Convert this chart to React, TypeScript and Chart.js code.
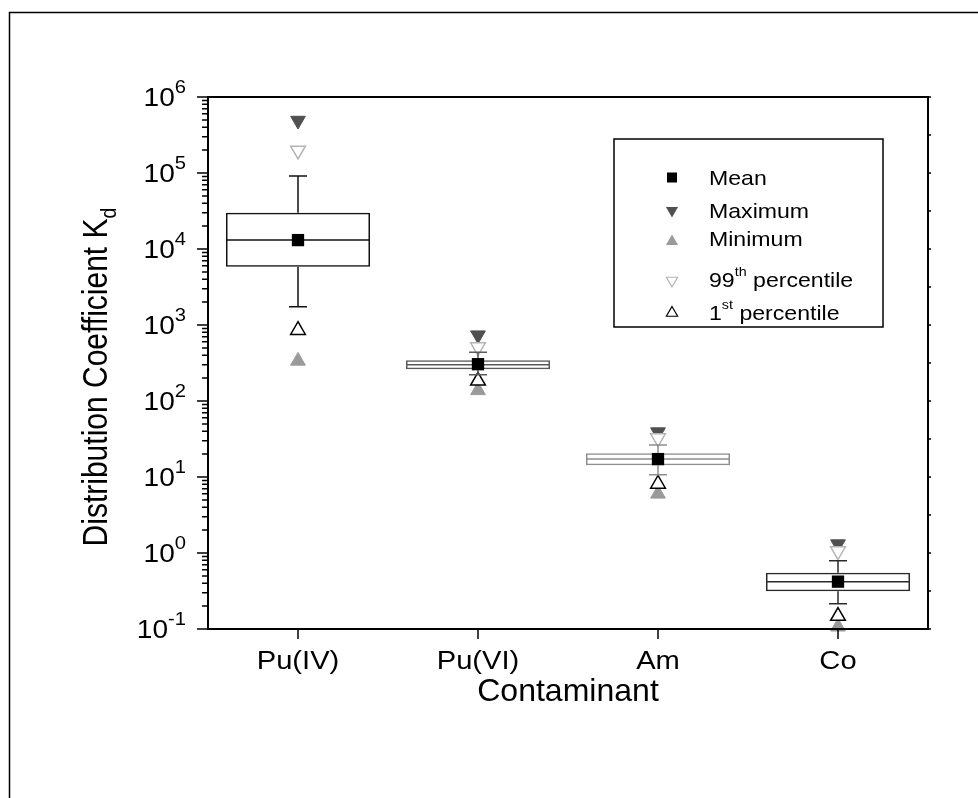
import React, { useEffect, useRef } from 'react';
import { Chart, registerables } from 'chart.js';

Chart.register(...registerables);

// ---------- data ----------
const categories = ['Pu(IV)', 'Pu(VI)', 'Am', 'Co'];
const boxLow = [5850, 261, 14.3, 0.313];
const boxHigh = [30000, 343, 20.5, 0.55];
const medianVals = [13100, 300, 17.3, 0.419];
const whiskerLow = [1740, 222, 10.7, 0.215];
const whiskerHigh = [91000, 438, 26.4, 0.79];
const meanVals = [13100, 305, 17.2, 0.42];
const maxVals = [490000, 735, 39, 1.31];
const minVals = [337, 138, 6.0, 0.107];
const p99Vals = [198000, 512, 32.5, 1.06];
const p1Vals = [853, 184, 8.1, 0.148];
const yExponents = [-1, 0, 1, 2, 3, 4, 5, 6];
const xTitle = 'Contaminant';
const yTitle = 'Distribution Coefficient K';
const yTitleSub = 'd';

// ---------- styles ----------
const FONT = '"Liberation Sans", Arial, Helvetica, sans-serif';
const SX = 1.1;
const boxColors = ['#111111', '#5a5a5a', '#8e8e8e', '#2a2a2a'];
const MEAN_COLOR = '#000000';
const MAX_COLOR = '#505050';
const MIN_COLOR = '#9a9a9a';
const P99_COLOR = '#b4b4b4';
const P1_COLOR = '#000000';

type Part = { t: string; s?: 'sup' | 'sub' };

function partSize(size: number, p: Part, supScale: number) {
  return p.s ? size * supScale : size;
}

function drawParts(
  ctx: CanvasRenderingContext2D,
  parts: Part[],
  size: number,
  align: 'left' | 'center' | 'right',
  supScale = 0.7,
  supRise = 0.45
) {
  ctx.textAlign = 'left';
  ctx.textBaseline = 'alphabetic';
  let w = 0;
  for (const p of parts) {
    ctx.font = `${partSize(size, p, supScale)}px ${FONT}`;
    w += ctx.measureText(p.t).width;
  }
  let cx = align === 'left' ? 0 : align === 'center' ? -w / 2 : -w;
  for (const p of parts) {
    ctx.font = `${partSize(size, p, supScale)}px ${FONT}`;
    const dy = p.s === 'sup' ? -size * supRise : p.s === 'sub' ? size * 0.25 : 0;
    ctx.fillText(p.t, cx, dy);
    cx += ctx.measureText(p.t).width;
  }
}

function triPath(ctx: CanvasRenderingContext2D, x: number, y: number, r: number, down: boolean) {
  const s = down ? -1 : 1;
  const h = (r * Math.sqrt(3)) / 2;
  ctx.beginPath();
  ctx.moveTo(x, y - s * r);
  ctx.lineTo(x + h, y + (s * r) / 2);
  ctx.lineTo(x - h, y + (s * r) / 2);
  ctx.closePath();
}

const decorPlugin = {
  id: 'decor',
  afterDatasetDraw(chart: any, args: any) {
    if (args.index !== 4) return;
    const ctx: CanvasRenderingContext2D = chart.ctx;
    const ys = chart.scales.y;
    const bars = chart.getDatasetMeta(0).data;
    ctx.save();
    ctx.lineWidth = 1.5;
    categories.forEach((_, i) => {
      const bar = bars[i];
      const cx = bar.x;
      const half = bar.width / 2;
      ctx.strokeStyle = boxColors[i];
      const ym = ys.getPixelForValue(medianVals[i]);
      ctx.beginPath();
      ctx.moveTo(cx - half, ym);
      ctx.lineTo(cx + half, ym);
      ctx.stroke();
      const yTop = ys.getPixelForValue(boxHigh[i]);
      const yBot = ys.getPixelForValue(boxLow[i]);
      const wHi = ys.getPixelForValue(whiskerHigh[i]);
      const wLo = ys.getPixelForValue(whiskerLow[i]);
      ctx.beginPath();
      ctx.moveTo(cx, yTop);
      ctx.lineTo(cx, wHi);
      ctx.moveTo(cx - 9, wHi);
      ctx.lineTo(cx + 9, wHi);
      ctx.moveTo(cx, yBot);
      ctx.lineTo(cx, wLo);
      ctx.moveTo(cx - 9, wLo);
      ctx.lineTo(cx + 9, wLo);
      ctx.stroke();
    });
    ctx.restore();
  },
  afterDraw(chart: any) {
    const ctx: CanvasRenderingContext2D = chart.ctx;
    const a = chart.chartArea;
    const ys = chart.scales.y;
    const xs = chart.scales.x;
    ctx.save();
    ctx.strokeStyle = '#000';
    ctx.fillStyle = '#000';

    // outer frame
    ctx.lineWidth = 1.5;
    ctx.beginPath();
    ctx.moveTo(9.5, 800);
    ctx.lineTo(9.5, 12.5);
    ctx.lineTo(990, 12.5);
    ctx.stroke();

    // plot frame
    ctx.lineWidth = 2;
    ctx.strokeRect(a.left, a.top, a.right - a.left, a.bottom - a.top);

    // left axis ticks
    ctx.lineWidth = 1.5;
    ctx.beginPath();
    for (const e of yExponents) {
      const y = ys.getPixelForValue(Math.pow(10, e));
      ctx.moveTo(a.left - 11, y);
      ctx.lineTo(a.left, y);
      if (e < yExponents[yExponents.length - 1]) {
        for (let m = 2; m <= 9; m++) {
          const ym = ys.getPixelForValue(m * Math.pow(10, e));
          ctx.moveTo(a.left - 6, ym);
          ctx.lineTo(a.left, ym);
        }
        // right axis small ticks (decades and half-decades)
        const yh = ys.getPixelForValue(Math.pow(10, e + 0.5));
        ctx.moveTo(a.right, yh);
        ctx.lineTo(a.right + 3, yh);
      }
      ctx.moveTo(a.right, y);
      ctx.lineTo(a.right + 3, y);
    }
    categories.forEach((_, i) => {
      const x = xs.getPixelForValue(i);
      ctx.moveTo(x, a.bottom);
      ctx.lineTo(x, a.bottom + 10);
    });
    ctx.stroke();

    // y tick labels
    for (const e of yExponents) {
      const y = ys.getPixelForValue(Math.pow(10, e));
      ctx.save();
      ctx.translate(186, y + 9);
      ctx.scale(SX, 1);
      drawParts(ctx, [{ t: '10' }, { t: String(e), s: 'sup' }], 25.5, 'right', 0.72, 0.5);
      ctx.restore();
    }

    // x tick labels
    categories.forEach((c, i) => {
      const x = xs.getPixelForValue(i);
      ctx.save();
      ctx.translate(x, 669);
      ctx.scale(SX, 1);
      drawParts(ctx, [{ t: c }], 26.5, 'center');
      ctx.restore();
    });

    // x title
    ctx.save();
    ctx.translate((a.left + a.right) / 2, 701);
    ctx.scale(1.05, 1);
    drawParts(ctx, [{ t: xTitle }], 30.5, 'center');
    ctx.restore();

    // y title
    ctx.save();
    ctx.translate(107, 377);
    ctx.rotate(-Math.PI / 2);
    ctx.scale(1, 1.15);
    drawParts(ctx, [{ t: yTitle }, { t: yTitleSub, s: 'sub' }], 30, 'center', 0.65);
    ctx.restore();

    // legend
    ctx.lineWidth = 1.5;
    ctx.strokeRect(614, 139, 269, 188);
    const lx = 672;
    const tx = 709;
    const rows: { y: number; parts: Part[]; kind: string }[] = [
      { y: 177, parts: [{ t: 'Mean' }], kind: 'mean' },
      { y: 210, parts: [{ t: 'Maximum' }], kind: 'max' },
      { y: 238, parts: [{ t: 'Minimum' }], kind: 'min' },
      { y: 279, parts: [{ t: '99' }, { t: 'th', s: 'sup' }, { t: ' percentile' }], kind: 'p99' },
      { y: 312, parts: [{ t: '1' }, { t: 'st', s: 'sup' }, { t: ' percentile' }], kind: 'p1' },
    ];
    for (const r of rows) {
      ctx.save();
      if (r.kind === 'mean') {
        ctx.fillStyle = MEAN_COLOR;
        ctx.fillRect(lx - 5, r.y - 4.5, 10, 10);
      } else if (r.kind === 'max') {
        ctx.fillStyle = MAX_COLOR;
        triPath(ctx, lx, r.y + 0.5, 7, true);
        ctx.fill();
      } else if (r.kind === 'min') {
        ctx.fillStyle = MIN_COLOR;
        triPath(ctx, lx, r.y + 3.5, 7, false);
        ctx.fill();
      } else if (r.kind === 'p99') {
        ctx.strokeStyle = P99_COLOR;
        ctx.lineWidth = 1.2;
        triPath(ctx, lx, r.y + 1.5, 6.5, true);
        ctx.stroke();
      } else {
        ctx.strokeStyle = P1_COLOR;
        ctx.lineWidth = 1.2;
        triPath(ctx, lx, r.y + 1, 6.5, false);
        ctx.stroke();
      }
      ctx.restore();
      ctx.save();
      ctx.fillStyle = '#000';
      ctx.translate(tx, r.y + 7.5);
      ctx.scale(SX, 1);
      drawParts(ctx, r.parts, 21, 'left', 0.62, 0.5);
      ctx.restore();
    }

    ctx.restore();
  },
};

export default function App() {
  const ref = useRef<HTMLCanvasElement>(null);
  useEffect(() => {
    if (!ref.current) return;
    document.body.style.margin = '0';
    const chart = new Chart(ref.current, {
      type: 'bar',
      data: {
        labels: categories,
        datasets: [
          {
            type: 'bar',
            label: 'box',
            data: categories.map((_, i) => [boxLow[i], boxHigh[i]]) as any,
            backgroundColor: 'rgba(0,0,0,0)',
            borderColor: boxColors,
            borderWidth: 1.5,
            borderSkipped: false,
            categoryPercentage: 0.8,
            barPercentage: 1.0,
            order: 6,
          } as any,
          {
            type: 'line',
            label: 'Maximum',
            data: maxVals,
            showLine: false,
            pointStyle: 'triangle',
            pointRotation: 180,
            pointRadius: 8.5,
            pointBackgroundColor: MAX_COLOR,
            pointBorderColor: MAX_COLOR,
            pointBorderWidth: 1,
            clip: false,
            order: 5,
          } as any,
          {
            type: 'line',
            label: 'Minimum',
            data: minVals,
            showLine: false,
            pointStyle: 'triangle',
            pointRadius: 8.5,
            pointBackgroundColor: MIN_COLOR,
            pointBorderColor: MIN_COLOR,
            pointBorderWidth: 1,
            clip: false,
            order: 4,
          } as any,
          {
            type: 'line',
            label: '99th percentile',
            data: p99Vals,
            showLine: false,
            pointStyle: 'triangle',
            pointRotation: 180,
            pointRadius: 8.5,
            pointBackgroundColor: '#ffffff',
            pointBorderColor: P99_COLOR,
            pointBorderWidth: 1.5,
            clip: false,
            order: 3,
          } as any,
          {
            type: 'line',
            label: '1st percentile',
            data: p1Vals,
            showLine: false,
            pointStyle: 'triangle',
            pointRadius: 8.5,
            pointBackgroundColor: '#ffffff',
            pointBorderColor: P1_COLOR,
            pointBorderWidth: 1.5,
            clip: false,
            order: 2,
          } as any,
          {
            type: 'line',
            label: 'Mean',
            data: meanVals,
            showLine: false,
            pointStyle: 'rect',
            pointRadius: 8.7,
            pointBackgroundColor: MEAN_COLOR,
            pointBorderColor: MEAN_COLOR,
            pointBorderWidth: 0,
            clip: false,
            order: 1,
          } as any,
        ],
      },
      options: {
        responsive: false,
        animation: false,
        devicePixelRatio: 1,
        events: [],
        layout: { padding: { left: 208, top: 97, right: 50, bottom: 169 } },
        plugins: { legend: { display: false }, tooltip: { enabled: false } },
        scales: {
          x: { type: 'category', display: false, offset: true },
          y: { type: 'logarithmic', display: false, min: 0.1, max: 1e6 },
        },
      },
      plugins: [decorPlugin],
    });
    return () => chart.destroy();
  }, []);
  return (
    <div style={{ position: 'absolute', left: 0, top: 0, width: 978, height: 798, background: '#fff' }}>
      <canvas ref={ref} width={978} height={798} style={{ display: 'block' }} />
    </div>
  );
}
